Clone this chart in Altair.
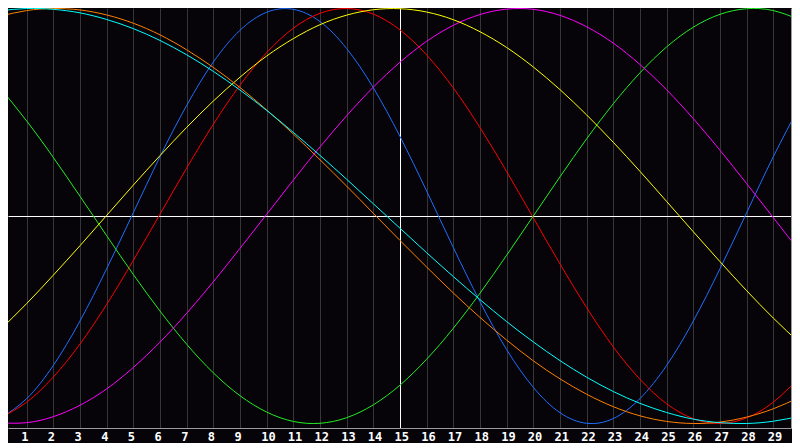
import altair as alt
import pandas as pd

# Day index along the bottom axis
days = list(range(31))
tick_days = list(range(1, 30))

# Cycle values (-1 .. +1) at every day
physical = [-0.976, -0.880, -0.720, -0.506, -0.254, 0.016, 0.286, 0.533, 0.742, 0.895,
            0.982, 0.996, 0.937, 0.807, 0.618, 0.383, 0.120, -0.152, -0.413, -0.644,
            -0.826, -0.948, -0.999, -0.976, -0.880, -0.720, -0.506, -0.254, 0.016, 0.286, 0.533]
emotional = [-0.973, -0.897, -0.776, -0.617, -0.426, -0.214, 0.009, 0.231, 0.442, 0.631,
             0.787, 0.905, 0.977, 1.000, 0.973, 0.897, 0.776, 0.617, 0.426, 0.214,
             -0.009, -0.231, -0.442, -0.631, -0.787, -0.905, -0.977, -1.000, -0.973, -0.897, -0.776]
intellectual = [0.618, 0.458, 0.282, 0.095, -0.095, -0.282, -0.458, -0.618, -0.756, -0.866,
                -0.945, -0.990, -0.999, -0.972, -0.910, -0.815, -0.690, -0.541, -0.372, -0.189,
                0.000, 0.189, 0.372, 0.541, 0.690, 0.815, 0.910, 0.972, 0.999, 0.990, 0.945]
intuitive = [-0.997, -0.996, -0.967, -0.912, -0.833, -0.730, -0.608, -0.469, -0.317, -0.156,
             0.008, 0.173, 0.333, 0.483, 0.621, 0.741, 0.842, 0.919, 0.971, 0.997,
             0.996, 0.967, 0.912, 0.833, 0.730, 0.608, 0.469, 0.317, 0.156, -0.008, -0.173]
aesthetic = [-0.549, -0.422, -0.285, -0.143, 0.003, 0.149, 0.291, 0.427, 0.554, 0.669,
             0.771, 0.855, 0.922, 0.968, 0.994, 0.999, 0.983, 0.946, 0.888, 0.812,
             0.718, 0.609, 0.487, 0.355, 0.215, 0.070, -0.076, -0.220, -0.360, -0.492, -0.614]
awareness = [0.963, 0.990, 1.000, 0.993, 0.969, 0.929, 0.873, 0.801, 0.716, 0.619,
             0.511, 0.395, 0.271, 0.144, 0.013, -0.118, -0.246, -0.371, -0.489, -0.598,
             -0.698, -0.785, -0.859, -0.919, -0.963, -0.990, -1.000, -0.993, -0.969, -0.929, -0.873]
spiritual = [0.989, 1.000, 0.996, 0.979, 0.947, 0.903, 0.846, 0.777, 0.697, 0.607,
             0.509, 0.403, 0.292, 0.177, 0.059, -0.059, -0.177, -0.292, -0.403, -0.509,
             -0.607, -0.697, -0.777, -0.846, -0.903, -0.947, -0.979, -0.996, -1.000, -0.989, -0.965]

cycle_names = ["physical", "emotional", "intellectual", "intuitive",
               "aesthetic", "awareness", "spiritual"]
cycle_values = [physical, emotional, intellectual, intuitive, aesthetic, awareness, spiritual]
cycle_colors = ["#1e6eff", "#ff0000", "#22ee22", "#ff00ff", "#ffff00", "#ff8000", "#00ffff"]

rows = []
for name, vals in zip(cycle_names, cycle_values):
    for d, v in zip(days, vals):
        rows.append({"day": d, "value": v, "cycle": name})
df = pd.DataFrame(rows)

chart = alt.Chart(df).mark_line(
    interpolate="natural", strokeWidth=1, clip=True
).encode(
    x=alt.X(
        "day:Q",
        scale=alt.Scale(domain=[0.3, 29.6625], nice=False, zero=False),
        axis=alt.Axis(
            values=tick_days, format="d", title=None,
            grid=True,
            gridColor={"condition": {"test": "datum.value === 15", "value": "#ffffff"},
                       "value": "#363636"},
            gridWidth=1, gridOpacity=1,
            ticks=False, tickSize=0,
            domain=True, domainColor="#9c9c9c", domainWidth=1,
            labelFont="DejaVu Sans Mono", labelFontWeight="bold", labelFontSize=12,
            labelColor="#ffffff", labelAlign="left", labelOffset=-6,
            labelBaseline="top", labelPadding=3,
            labelOverlap=False, labelFlush=False,
        ),
    ),
    y=alt.Y(
        "value:Q",
        scale=alt.Scale(domain=[-1.02169, 1.00241], nice=False, zero=False),
        axis=alt.Axis(
            orient="right", values=[0], title=None, labels=False,
            ticks=False, tickSize=0, grid=True, gridColor="#ffffff",
            gridWidth=1, gridOpacity=1,
            domain=True, domainColor="#9c9c9c", domainWidth=1,
        ),
    ),
    color=alt.Color("cycle:N",
                    scale=alt.Scale(domain=cycle_names, range=cycle_colors),
                    legend=None),
).properties(
    width=783,
    height=420,
    autosize=alt.AutoSizeParams(type="none"),
    padding={"left": 0, "top": 0, "right": 1, "bottom": 15},
    background="#060409",
).configure_view(
    stroke=None,
    fill="#060409",
)

chart.save("out.html", embed_options={"renderer": "svg", "actions": False})
